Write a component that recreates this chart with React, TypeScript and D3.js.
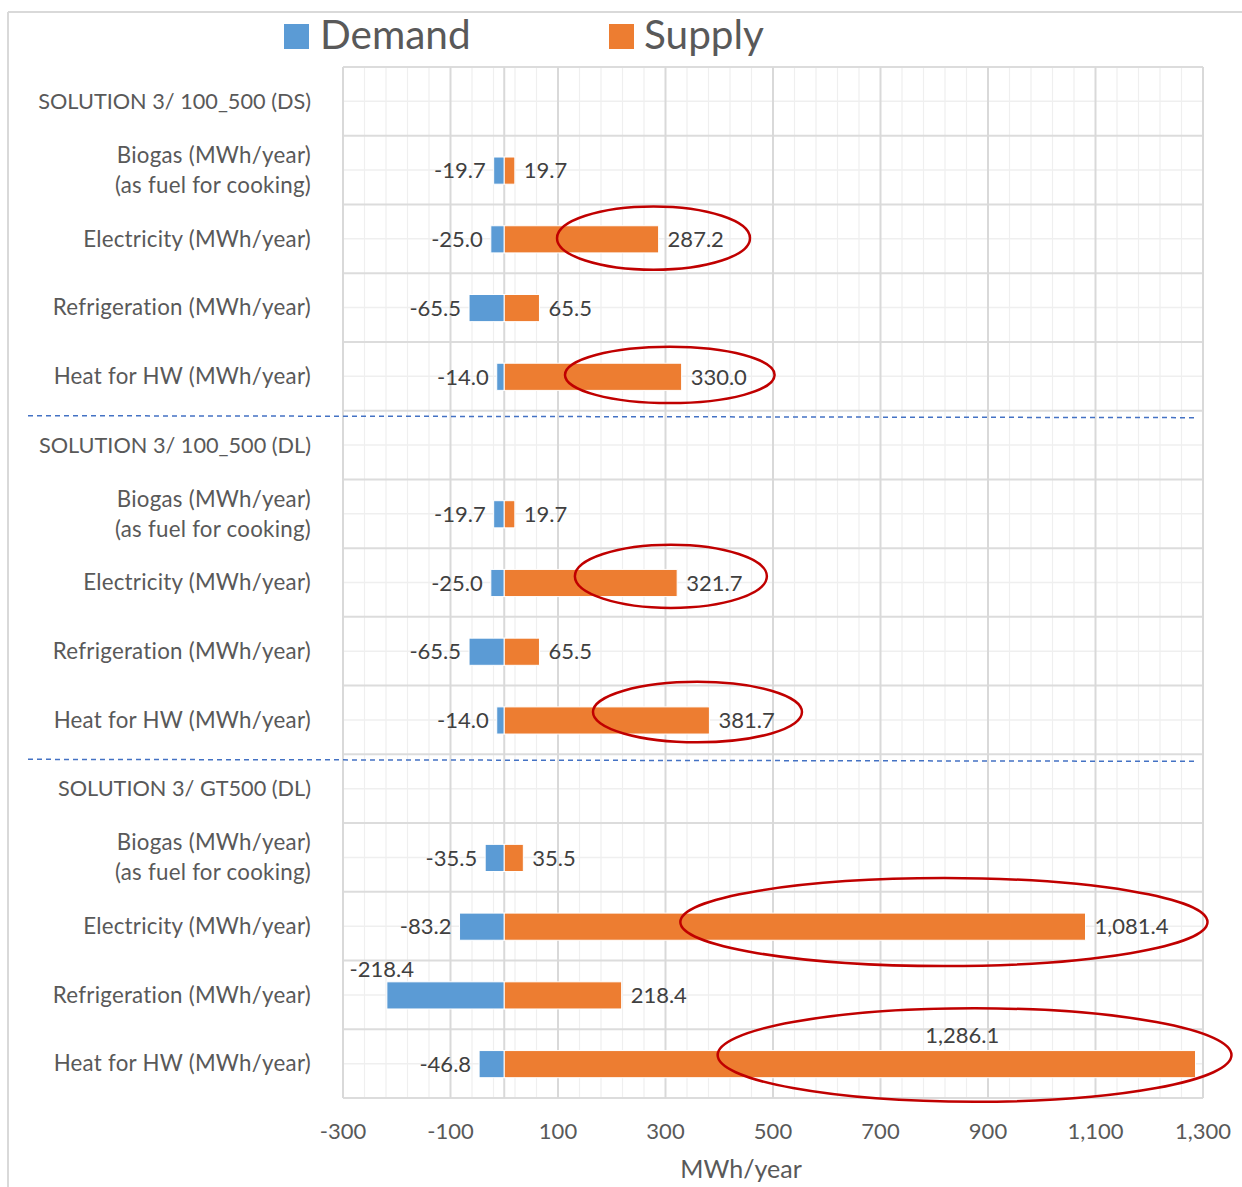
import React from "react";
import * as d3 from "d3";

const categories: string[] = [
  "SOLUTION 3/ 100_500 (DS)",
  "Biogas (MWh/year)\n(as fuel for cooking)",
  "Electricity (MWh/year)",
  "Refrigeration (MWh/year)",
  "Heat for HW (MWh/year)",
  "SOLUTION 3/ 100_500 (DL)",
  "Biogas (MWh/year)\n(as fuel for cooking)",
  "Electricity (MWh/year)",
  "Refrigeration (MWh/year)",
  "Heat for HW (MWh/year)",
  "SOLUTION 3/ GT500 (DL)",
  "Biogas (MWh/year)\n(as fuel for cooking)",
  "Electricity (MWh/year)",
  "Refrigeration (MWh/year)",
  "Heat for HW (MWh/year)",
];

const demand: (number | null)[] = [null, -19.7, -25.0, -65.5, -14.0, null, -19.7, -25.0, -65.5, -14.0, null, -35.5, -83.2, -218.4, -46.8];
const supply: (number | null)[] = [null, 19.7, 287.2, 65.5, 330.0, null, 19.7, 321.7, 65.5, 381.7, null, 35.5, 1081.4, 218.4, 1286.1];

const xTicks: number[] = [-300, -100, 100, 300, 500, 700, 900, 1100, 1300];
const xMinorStep = 40;

const seriesNames = ["Demand", "Supply"];

// label placed above the bar (row index, series, x position in data units)
const labelsAbove = [
  { row: 13, series: "Demand", at: -228 },
  { row: 14, series: "Supply", at: 852 },
];

// red highlight ellipses (row index, centre value, radius in data units, vertical radius/offset as band fraction)
const highlights = [
  { row: 2, cx: 277.7, rx: 179.5, ry: 0.46, dy: -0.01 },
  { row: 4, cx: 308, rx: 195, ry: 0.41, dy: -0.02 },
  { row: 7, cx: 310, rx: 178.6, ry: 0.46, dy: -0.09 },
  { row: 9, cx: 359.5, rx: 194.4, ry: 0.44, dy: -0.115 },
  { row: 12, cx: 818, rx: 490.4, ry: 0.64, dy: -0.06 },
  { row: 14, cx: 875, rx: 478, ry: 0.68, dy: -0.125 },
];

// dashed separators after these rows
const separators = [4, 9];

const W = 1242;
const H = 1187;
const plot = { left: 343, right: 1203, top: 67, bottom: 1098 };
const FONT = "Lato, 'Open Sans', sans-serif";
const TXT = "#595959";
const LBL = "#404040";
const BLUE = "#5B9BD5";
const ORANGE = "#ED7D31";

const locale = d3.formatLocale({ decimal: ".", thousands: ",", grouping: [3], currency: ["", ""], minus: "-" });

export default function App() {
  const x = d3.scaleLinear().domain([-300, 1300]).range([plot.left, plot.right]);
  const y = d3
    .scaleBand<number>()
    .domain(d3.range(categories.length))
    .range([plot.top, plot.bottom])
    .padding(0);
  const bw = y.bandwidth();
  const barH = bw * 0.395;
  const fmt = locale.format(",.1f");
  const tfmt = locale.format(",");

  const minor = d3.range(-300, 1300 + 1, xMinorStep);

  return (
    <svg
      width={W}
      height={H}
      style={{ position: "absolute", left: 0, top: 0, background: "#fff" }}
      fontFamily={FONT}
    >
      <rect x={0} y={0} width={W} height={H} fill="#fff" />
      {/* outer chart border */}
      <line x1={8} y1={12} x2={W} y2={12} stroke="#d9d9d9" strokeWidth={2} />
      <line x1={8} y1={12} x2={8} y2={H} stroke="#d9d9d9" strokeWidth={2} />

      {/* legend */}
      <g>
        <rect x={284} y={24} width={25} height={25} fill={BLUE} />
        <text x={320} y={49} fontSize={40.5} fill={TXT}>{seriesNames[0]}</text>
        <rect x={609} y={24} width={25} height={25} fill={ORANGE} />
        <text x={644} y={49} fontSize={40.5} fill={TXT}>{seriesNames[1]}</text>
      </g>

      {/* minor vertical grid */}
      {minor.map((v) => (
        <line key={"mv" + v} x1={x(v)} x2={x(v)} y1={plot.top} y2={plot.bottom} stroke="#efefef" strokeWidth={1.2} />
      ))}
      {/* minor horizontal grid (band middles) */}
      {categories.map((_, i) => (
        <line key={"mh" + i} x1={plot.left} x2={plot.right} y1={(y(i) as number) + bw / 2} y2={(y(i) as number) + bw / 2} stroke="#efefef" strokeWidth={1.5} />
      ))}
      {/* major horizontal grid */}
      {d3.range(categories.length + 1).map((i) => {
        const yy = plot.top + i * bw;
        return <line key={"Mh" + i} x1={plot.left} x2={plot.right} y1={yy} y2={yy} stroke="#dcdcdc" strokeWidth={2} />;
      })}
      {/* major vertical grid */}
      {xTicks.map((v) => (
        <line key={"Mv" + v} x1={x(v)} x2={x(v)} y1={plot.top} y2={plot.bottom} stroke="#d9d9d9" strokeWidth={2} />
      ))}
      {/* zero axis */}
      <line x1={x(0)} x2={x(0)} y1={plot.top} y2={plot.bottom} stroke="#d9d9d9" strokeWidth={2} />

      {/* bars */}
      {categories.map((_, i) => {
        const cy = (y(i) as number) + bw / 2 + 0.5;
        const d = demand[i];
        const s = supply[i];
        return (
          <g key={"b" + i}>
            {d != null && (
              <rect x={x(d)} y={cy - barH / 2} width={x(0) - x(d)} height={barH} fill={BLUE} stroke="#fff" strokeWidth={1} />
            )}
            {s != null && (
              <rect x={x(0)} y={cy - barH / 2} width={x(s) - x(0)} height={barH} fill={ORANGE} stroke="#fff" strokeWidth={1} />
            )}
          </g>
        );
      })}

      {/* data labels */}
      {categories.map((_, i) => {
        const cy = (y(i) as number) + bw / 2 + 0.5;
        const out: React.ReactNode[] = [];
        const d = demand[i];
        const s = supply[i];
        if (d != null) {
          const ov = labelsAbove.find((l) => l.row === i && l.series === "Demand");
          if (ov) {
            out.push(
              <text key="d" x={x(ov.at)} y={cy - barH / 2 - 5} textAnchor="middle" fontSize={22} fill={LBL}>{fmt(d)}</text>
            );
          } else {
            out.push(
              <text key="d" x={x(d) - 8} y={cy} dy="0.35em" textAnchor="end" fontSize={22} fill={LBL}>{fmt(d)}</text>
            );
          }
        }
        if (s != null) {
          const ov = labelsAbove.find((l) => l.row === i && l.series === "Supply");
          if (ov) {
            out.push(
              <text key="s" x={x(ov.at)} y={cy - barH / 2 - 8} textAnchor="middle" fontSize={22} fill={LBL}>{fmt(s)}</text>
            );
          } else {
            out.push(
              <text key="s" x={x(s) + 9} y={cy} dy="0.35em" textAnchor="start" fontSize={22} fill={LBL}>{fmt(s)}</text>
            );
          }
        }
        return <g key={"l" + i}>{out}</g>;
      })}

      {/* category labels */}
      {categories.map((c, i) => {
        const cy = (y(i) as number) + bw / 2;
        const lines = c.split("\n");
        const lh = 30;
        const isHeader = demand[i] == null && supply[i] == null;
        return (
          <text
            key={"c" + i}
            x={311}
            textAnchor="end"
            fontSize={isHeader ? 21.7 : 22.3}
            letterSpacing={isHeader ? 0 : 0.25}
            fill={TXT}
          >
            {lines.map((ln, k) => (
              <tspan key={k} x={311} y={cy + (k - (lines.length - 1) / 2) * lh} dy="0.35em">{ln}</tspan>
            ))}
          </text>
        );
      })}

      {/* dashed separators */}
      {separators.map((r) => {
        const yy = plot.top + (r + 1) * bw;
        return (
          <line key={"sep" + r} x1={28} x2={1196} y1={yy + 5} y2={yy + 7} stroke="#4472C4" strokeWidth={1.5} strokeDasharray="5,4" />
        );
      })}

      {/* highlight ellipses */}
      {highlights.map((h, k) => {
        const cy = (y(h.row) as number) + bw / 2 + h.dy * bw;
        return (
          <ellipse key={"e" + k} cx={x(h.cx)} cy={cy} rx={x(h.rx) - x(0)} ry={h.ry * bw} fill="none" stroke="#C00000" strokeWidth={2.5} />
        );
      })}

      {/* x axis tick labels */}
      {xTicks.map((v) => (
        <text key={"t" + v} x={x(v)} y={1139} textAnchor="middle" fontSize={22} fill={TXT}>{tfmt(v)}</text>
      ))}
      <text x={741} y={1178} textAnchor="middle" fontSize={25} fill={TXT}>MWh/year</text>
    </svg>
  );
}
